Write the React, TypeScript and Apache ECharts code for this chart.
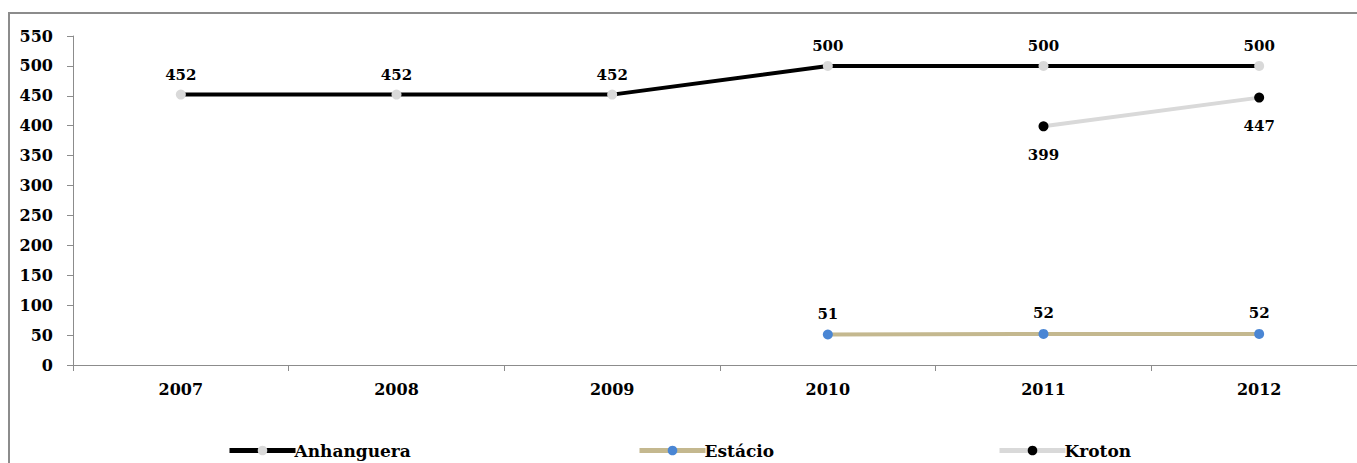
import React, { useEffect, useRef } from "react";
import * as echarts from "echarts";

const years = ["2007", "2008", "2009", "2010", "2011", "2012"];
const anhanguera = [452, 452, 452, 500, 500, 500];
const estacio = [null, null, null, 51, 52, 52];
const kroton = [null, null, null, null, 399, 447];
const yTicks = { min: 0, max: 550, interval: 50 };

const FONT = "'DejaVu Serif', 'Liberation Serif', serif";

export default function App() {
  const ref = useRef<HTMLDivElement>(null);
  useEffect(() => {
    const chart = echarts.init(ref.current!, null, { renderer: "svg" });
    const labelStyle = { color: "#000", fontFamily: FONT, fontWeight: "bold", fontSize: 15 };
    const legendCommon = {
      top: 437,
      itemWidth: 66,
      itemHeight: 12,
      lineStyle: { width: 5 },
      textStyle: { ...labelStyle, fontSize: 17, padding: [0, 0, 0, -6] },
    };
    chart.setOption({
      animation: false,
      backgroundColor: "#fff",
      graphic: [
        {
          type: "rect",
          shape: { x: 9, y: 13, width: 1400, height: 500 },
          style: { fill: "none", stroke: "#8c8c8c", lineWidth: 2 },
          silent: true,
        },
      ],
      grid: { left: 73, top: 36, height: 329, width: 1294, outerBoundsMode: "none", containLabel: false },
      xAxis: {
        type: "category",
        data: years,
        boundaryGap: true,
        axisLine: { lineStyle: { color: "#8c8c8c", width: 1 } },
        axisTick: { show: true, length: 6, lineStyle: { color: "#8c8c8c" } },
        axisLabel: { ...labelStyle, fontSize: 16, margin: 16 },
      },
      yAxis: {
        type: "value",
        min: yTicks.min,
        max: yTicks.max,
        interval: yTicks.interval,
        splitLine: { show: false },
        axisLine: { show: true, lineStyle: { color: "#8c8c8c", width: 1 } },
        axisTick: { show: true, length: 6, lineStyle: { color: "#8c8c8c" } },
        axisLabel: { ...labelStyle, fontSize: 16, margin: 20 },
      },
      legend: [
        { ...legendCommon, left: 222, data: ["Anhanguera"] },
        { ...legendCommon, left: 632, data: ["Estácio"] },
        { ...legendCommon, left: 992, data: ["Kroton"] },
      ],
      series: [
        {
          name: "Anhanguera",
          type: "line",
          data: anhanguera,
          symbol: "circle",
          symbolSize: 10,
          lineStyle: { color: "#000", width: 4 },
          itemStyle: { color: "#d9d9d9" },
          label: { show: true, position: "top", distance: 7, ...labelStyle },
          z: 3,
        },
        {
          name: "Estácio",
          type: "line",
          data: estacio,
          symbol: "circle",
          symbolSize: 10,
          lineStyle: { color: "#c4b88f", width: 4 },
          itemStyle: { color: "#4a86d4" },
          label: { show: true, position: "top", distance: 8, ...labelStyle },
        },
        {
          name: "Kroton",
          type: "line",
          data: kroton,
          symbol: "circle",
          symbolSize: 10,
          lineStyle: { color: "#d9d9d9", width: 4 },
          itemStyle: { color: "#000" },
          label: { show: true, position: "bottom", distance: 16, ...labelStyle },
        },
      ],
    });
    return () => chart.dispose();
  }, []);
  return (
    <div
      ref={ref}
      style={{ position: "absolute", left: 0, top: 0, width: 1357, height: 463 }}
    />
  );
}
